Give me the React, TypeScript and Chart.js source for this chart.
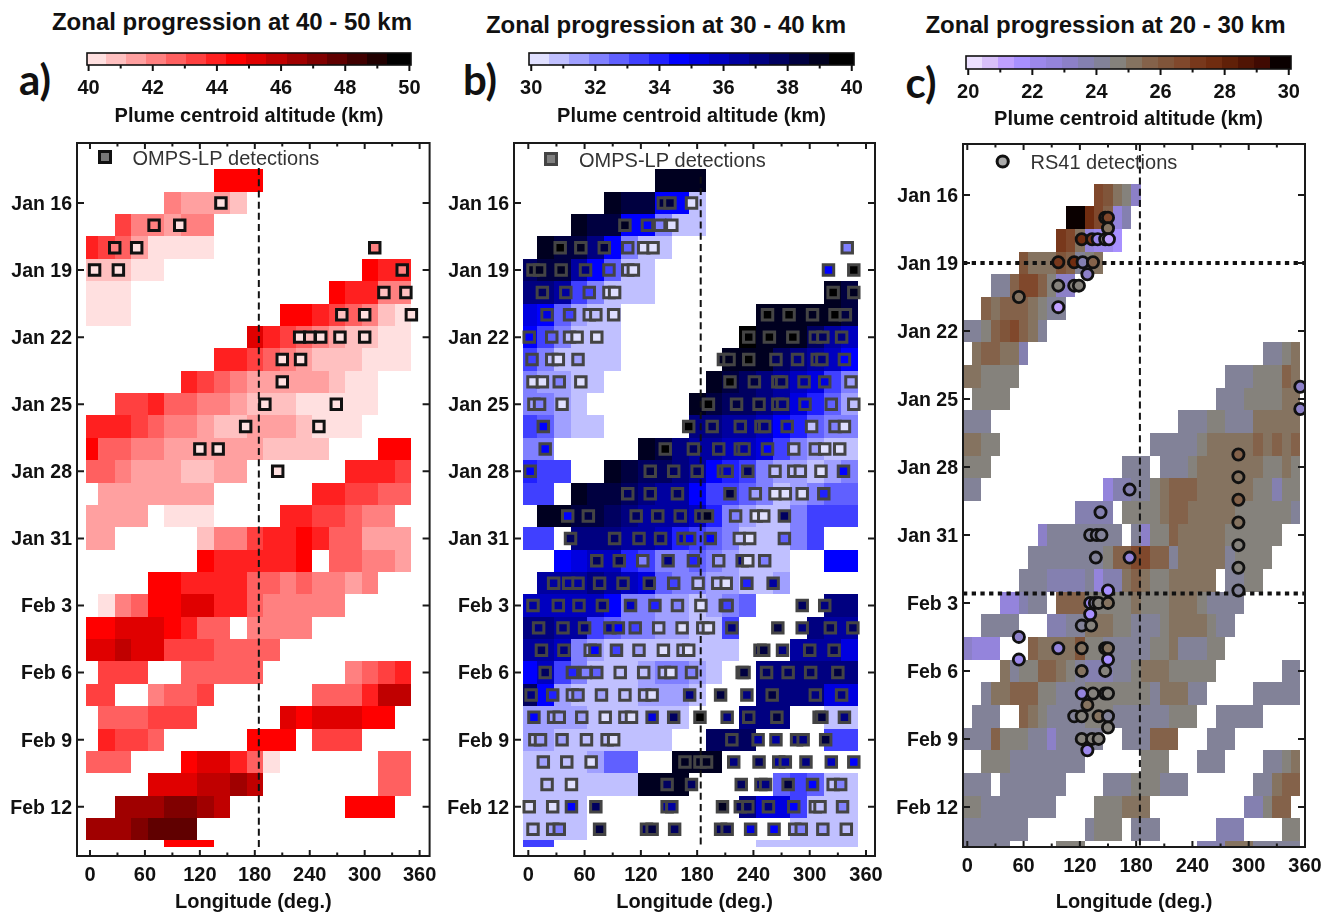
import React, { useEffect, useRef } from "react";
import { Chart, registerables } from "chart.js";
Chart.register(...registerables);

const gap = (n: number) => ".".repeat(n);

// Altitude class of each cell (one character per longitude bin, "." = no data), one row per day
const aRows = [
  "........777.........", ".....32221..........", "..533233............", "65420000............",
  "11100............766", "000............76633", "000.........77654310", "..........8654321100",
  "........665432111000", "......654322222100..", "..5564433211100000..", "66654332112221000...",
  "744332222221111...77", "4432221122......6665", ".2222222......665544", "2222.000....6655433.",
  "22.....1335667644222", ".......7666667.44332", "....77666644343323..", ".034778866433333....",
  "778887644.3333......", "889885554444........", ".555..44444.....3456", "55..3445......444699",
  ".444555.....8788877.", ".6554.....777.555...", "444...788640......44", "....88899a9.......44",
  "..aaabba9.......777.", "aaabccc.............", ".....777............",
];
const bRows = [
  "........eee.........", ".....edd771.........", "...edd77311.........", ".eddb7311...........",
  "cdda7411............", "bba53111..........ed", "874211........eeeeed", "753111.......feeeca9",
  "531111......eeecba97", "32211......edcba9853", "3321......edccba8642", "54211.....bbaa976433",
  "33.....edbaa99853211", "655..edccba765322123", "55.eddcbaa7554312344", ".eeddcbaaa9632113555",
  "55.bbbaa9654311135..", "..78996533432111..77", ".aaaba9843322112....", "99999733221234....bb",
  "bbaa543322115....baa", "aa93211111111...aaa8", "795311123321..bbbbbb", "c7211112221...bbbb88",
  "2222111111...bbb..11", "221111111..ccc....55", "1111244..eee........", "1111111eee.....45411",
  "1111.........b885111", "1111............1111", "55............111111",
];
const cRows = [
  gap(14) + "dca96",
  gap(11) + "jjfdb57",
  gap(10) + "eda5443",
  gap(6) + "caaacb89a",
  gap(3) + "88bddb966",
  gap(2) + "babbba988",
  "889bcdba8",
  ".abbaa7" + gap(25) + "889a",
  "aa9999" + gap(22) + "888999ba",
  ".9999" + gap(22) + "8889999aa",
  "888" + gap(20) + "88899888aaaaa",
  "aa99" + gap(16) + "888889aaaaababab",
  "999" + gap(14) + "888.8889aaaaaaa99a9",
  "88" + gap(13) + "57788" + "9abbbaaaaaa99799",
  gap(12) + "7777.9999abbaaaaa9999998",
  gap(8) + "688888888.8699baaaaa999999",
  gap(7) + "888888889bbddbb8aaaaa89999",
  gap(6) + "888777785" + "77aba99aaaaa.8899",
  gap(4) + "55788.bbb99999a999aaa98888",
  gap(2) + "8888...7788aaa99888" + "9aaaa988",
  "6555...baaaac998888899a88899",
  gap(4) + "a899bba98777889aaa99999" + gap(7) + "88",
  "..8aabbb99888999" + "99998aaa88" + gap(5) + "88888",
  ".888..ba98888999888888999..88888",
  "888b99988688888..888bbb...888",
  "..99988888888" + gap(6) + "999...888" + gap(4) + "889a",
  "888.8888888" + gap(4) + "888999888" + gap(7) + "88abb",
  "9988888888....999aaa" + gap(10) + "779bb",
  "8888888" + gap(6) + "8999.888" + gap(6) + "777" + gap(4) + "99",
  "88888" + gap(5) + "999" + gap(12) + "777aaa88888",
];

const aFirstDay = 15;
const bFirstDay = 15;
const cFirstDay = 16;

// Detections: [day, longitudes, altitude class of each]
type Hit = [number, number[], string];
const aHits: Hit[] = [
  [16, [143], "0"], [17, [70, 98], "30"], [18, [27, 51, 311], "303"], [19, [5, 31, 341], "003"],
  [20, [321, 345], "11"], [21, [275, 300, 351], "100"], [22, [229, 240, 252, 273, 300], "01000"],
  [23, [210, 230], "00"], [24, [210], "0"], [25, [191, 269], "00"], [26, [170, 250], "00"],
  [27, [120, 140], "00"], [28, [205], "0"],
];
const bHits: Hit[] = [
  [16, [144, 151, 174], "dd0"], [17, [103, 127, 140, 153], "e730"], [18, [34, 56, 81, 106, 123, 133, 340], "fed4003"],
  [19, [5, 12, 35, 61, 86, 106, 112, 320, 347], "eeeb5107f"],
  [20, [15, 40, 65, 86, 92, 325, 347], "ca500fe"],
  [21, [20, 44, 65, 72, 91, 255, 278, 303, 327, 338], "85110ffefd"],
  [22, [1, 25, 44, 52, 73, 235, 257, 282, 306, 314, 334], "74100fffccb"],
  [23, [4, 25, 32, 53, 208, 214, 235, 264, 287, 308, 313, 337], "5102eefcbbb7"],
  [24, [5, 15, 33, 56, 215, 241, 266, 270, 294, 316, 344], "0030fdcca82"],
  [25, [6, 12, 36, 192, 222, 246, 266, 271, 295, 323, 347], "230fddcb841"],
  [26, [16, 171, 196, 226, 248, 252, 276, 302, 327, 337], "7fcbbb8130"],
  [27, [18, 146, 176, 203, 226, 230, 255, 283, 306, 316, 332], "7fcbaa71200"],
  [28, [2, 130, 155, 180, 208, 212, 234, 263, 283, 290, 312, 336], "7dcc99c11107"],
  [29, [106, 130, 159, 215, 242, 263, 274, 292, 315], "cccd20006"],
  [30, [42, 64, 115, 138, 162, 184, 191, 221, 243, 251, 273], "7dccbce300c"],
  [31, [45, 92, 118, 141, 165, 172, 194, 225, 236, 273], "ccbb977104"],
  [32, [73, 97, 122, 149, 176, 203, 228, 234, 252], "cc3b62b03"],
  [33, [27, 43, 53, 76, 101, 129, 155, 181, 202, 211, 233, 261], "aaabbc51106a"],
  [34, [5, 32, 54, 79, 109, 135, 159, 184, 210, 212, 292, 316], "aaab963025cb"],
  [35, [11, 37, 60, 87, 96, 114, 139, 164, 186, 192, 217, 266, 292, 322, 346], "bbba751010bdbcc"],
  [36, [14, 38, 66, 71, 94, 118, 144, 165, 171, 247, 251, 271, 300, 326], "cb2752010ddbcc"],
  [37, [18, 47, 61, 73, 98, 123, 145, 152, 174, 228, 230, 254, 277, 301, 330], "c63411103ddcccd"],
  [38, [3, 26, 47, 53, 78, 103, 124, 132, 172, 205, 233, 260, 306, 334], "b6232110bdbdbb"],
  [39, [6, 27, 33, 57, 82, 103, 110, 132, 155, 183, 212, 235, 265, 310, 313, 337], "72220108cfbcdddb"],
  [40, [7, 13, 36, 62, 84, 91, 217, 245, 264, 286, 293, 317], "122110caabbd"],
  [41, [16, 41, 67, 167, 183, 190, 219, 246, 267, 274, 296, 323, 347], "210eeebcaab97"],
  [42, [20, 46, 148, 174, 227, 248, 253, 277, 303, 325, 333], "10cccbbd713"],
  [43, [1, 26, 46, 72, 148, 153, 207, 226, 234, 256, 283, 306, 311, 335], "007caaeccb7113"],
  [44, [5, 26, 33, 76, 126, 132, 156, 205, 212, 237, 262, 284, 291, 314, 339], "123dcdccc872321"],
];
const cHits: Hit[] = [
  [17, [147, 150], "cd"], [17.47, [150], "a"], [17.95, [122, 133, 139, 147, 151], "fe492"],
  [18.97, [97, 114, 123, 134], "ef7b"], [19.5, [128], "6"], [20, [97, 114, 119], "999"], [20.5, [55], "a"], [20.95, [97], "2"],
  [24.46, [355], "6"], [25.44, [355], "6"], [27.45, [289], "b"], [28.45, [289], "a"], [29, [173], "7"], [29.45, [289], "b"],
  [30, [142], "7"], [30.45, [289], "a"], [31, [131, 138, 143], "888"], [31.45, [289], "9"], [32, [137, 173], "85"],
  [32.45, [289], "9"], [33.45, [150, 289], "38"], [34, [131, 136, 140, 150], "489a"], [34.5, [131], "3"], [35, [122, 132], "89"],
  [35.5, [55], "6"], [36, [97, 122, 147, 150], "5a8a"], [36.5, [55, 150], "43"], [37, [122, 147], "a9"],
  [38, [122, 134, 147, 150], "5989"], [38.5, [128], "a"], [39, [114, 122, 140, 150], "89a8"], [39.5, [150], "9"],
  [40, [122, 133, 140], "999"], [40.5, [128], "4"],
];

const dayTicksA = [16, 19, 22, 25, 28, 31, 34, 37, 40, 43];
const dayLabels = ["Jan 16", "Jan 19", "Jan 22", "Jan 25", "Jan 28", "Jan 31", "Feb 3", "Feb 6", "Feb 9", "Feb 12"];
const lonTicks = [0, 30, 60, 90, 120, 150, 180, 210, 240, 270, 300, 330, 360];
const lonLabels = ["0", "", "60", "", "120", "", "180", "", "240", "", "300", "", "360"];

const redColours = ["#ffe0e0", "#ffc0c0", "#ffa0a0", "#ff8080", "#ff6060", "#ff4040", "#ff2020", "#ff0000", "#e00000", "#c00000", "#a00000", "#800000", "#600000", "#400000", "#200000", "#000000"];
const blueColours = ["#e0e0ff", "#c0c0ff", "#a0a0ff", "#8080ff", "#6060ff", "#4040ff", "#2020ff", "#0000ff", "#0000e0", "#0000c0", "#0000a0", "#000080", "#000060", "#000040", "#000020", "#000000"];
const violetColours = ["#ece0ff", "#d8c0fa", "#c0a0ff", "#a890ff", "#9c88ec", "#9484dc", "#8c80c8", "#8480b0", "#828298", "#85827c", "#857360", "#84624a", "#80553a", "#80482c", "#78381c", "#702c10", "#602008", "#501404", "#400a02", "#0a0000"];

const FONT = '"Liberation Sans", Arial, sans-serif';
const INK = "#111111";

type Panel = {
  left: number; width: number; plot: [number, number, number, number];
  xRange: [number, number]; yRange: [number, number];
  rows: string[]; firstDay: number; columns: number; colStep: number; clipLeft: number;
  lastRowSpan: number; base: number; colours: string[];
  hits: Hit[]; hitStyle: "rect" | "circle"; hitRadius: number; hitBorder: string; hitWidth: number;
  dashed: [number, number, number]; dotted: number[];
  legend: { sx: number; sy: number; fill: string; text: string; tx: number; ty: number };
  bar: { left: number; right: number; top: number; bottom: number; canvasLeft: number; canvasRight: number; canvasBottom: number; xr: [number, number] };
  title: string; titleX: number; titleY: number; letter: string; letterX: number; letterY: number;
};

const panels: Panel[] = [
  {
    left: 0, width: 440, plot: [77, 430, 143, 856], xRange: [-14.18, 370.9], yRange: [13.32, 45.2],
    rows: aRows, firstDay: aFirstDay, columns: 20, colStep: 18, clipLeft: -4.7, lastRowSpan: 0.3, base: 40, colours: redColours,
    hits: aHits, hitStyle: "rect", hitRadius: 7.4, hitBorder: "#111111", hitWidth: 3,
    dashed: [184.4, 14.44, 44.84], dotted: [],
    legend: { sx: 105, sy: 157, fill: "#777777", text: "OMPS-LP detections", tx: 132.5, ty: 159 },
    bar: { left: 87, right: 411, top: 53, bottom: 65, canvasLeft: 70, canvasRight: 430, canvasBottom: 126, xr: [39.95, 50.05] },
    title: "Zonal progression at 40 - 50 km", titleX: 232, titleY: 22, letter: "a)", letterX: 35, letterY: 79,
  },
  {
    left: 440, width: 450, plot: [514, 875, 143, 856], xRange: [-15.25, 369.6], yRange: [13.32, 45.2],
    rows: bRows, firstDay: bFirstDay, columns: 20, colStep: 18, clipLeft: -5.3, lastRowSpan: 0.3, base: 30, colours: blueColours,
    hits: bHits, hitStyle: "rect", hitRadius: 7.4, hitBorder: "#444444", hitWidth: 3,
    dashed: [183.8, 14.83, 44.84], dotted: [],
    legend: { sx: 551, sy: 159, fill: "#808080", text: "OMPS-LP detections", tx: 579, ty: 161 },
    bar: { left: 529, right: 854, top: 53, bottom: 65, canvasLeft: 510, canvasRight: 875, canvasBottom: 126, xr: [29.93, 40.07] },
    title: "Zonal progression at 30 - 40 km", titleX: 666, titleY: 25, letter: "b)", letterX: 480, letterY: 79,
  },
  {
    left: 890, width: 432, plot: [963, 1305, 144, 847], xRange: [-4.58, 360], yRange: [13.75, 44.77],
    rows: cRows, firstDay: cFirstDay, columns: 36, colStep: 10, clipLeft: -4.5, lastRowSpan: 1, base: 20, colours: violetColours,
    hits: cHits, hitStyle: "circle", hitRadius: 5.6, hitBorder: "#111111", hitWidth: 2.8,
    dashed: [184, 13.75, 44.77], dotted: [19, 33.58],
    legend: { sx: 1002.7, sy: 161.5, fill: "#aaaaaa", text: "RS41 detections", tx: 1030.5, ty: 163 },
    bar: { left: 966, right: 1291, top: 56, bottom: 69, canvasLeft: 950, canvasRight: 1310, canvasBottom: 129, xr: [19.93, 30.07] },
    title: "Zonal progression at 20 - 30 km", titleX: 1105.5, titleY: 25, letter: "c)", letterX: 921, letterY: 82,
  },
];

const colourOf = (p: Panel, ch: string) => p.colours[parseInt(ch, 36)];
const altitudeOf = (p: Panel, ch: string) => p.base + ((parseInt(ch, 36) + 0.5) * 10) / p.colours.length;
const colourAt = (p: Panel, alt: number) =>
  p.colours[Math.min(p.colours.length - 1, Math.floor(((alt - p.base) / 10) * p.colours.length))];

function cellPlugin(p: Panel, halfX: number, clipLeft: number, lastY: number | null, lastSpan: number) {
  return {
    id: "cells",
    beforeDatasetsDraw(chart: any) {
      const { ctx, chartArea: a, scales } = chart;
      const cells = chart.data.datasets[0].data as { x: number; y: number; v: number }[];
      ctx.save();
      ctx.beginPath();
      ctx.rect(a.left, a.top, a.right - a.left, a.bottom - a.top);
      ctx.clip();
      for (const c of cells) {
        const x0 = Math.round(scales.x.getPixelForValue(Math.max(c.x - halfX, clipLeft)));
        const x1 = Math.round(scales.x.getPixelForValue(c.x + halfX));
        const y0 = Math.round(scales.y.getPixelForValue(c.y - 0.5));
        const span = lastY !== null && c.y === lastY ? lastSpan : 1;
        const y1 = Math.round(scales.y.getPixelForValue(c.y - 0.5 + span));
        ctx.fillStyle = colourAt(p, c.v);
        ctx.fillRect(x0, y0, x1 - x0, y1 - y0);
      }
      ctx.restore();
    },
  };
}

function framePlugin(p: Panel) {
  return {
    id: "frame",
    afterDraw(chart: any) {
      const { ctx, chartArea: a, scales } = chart;
      ctx.save();
      ctx.strokeStyle = "#1a1a1a";
      ctx.lineWidth = 2;
      ctx.strokeRect(a.left, a.top, a.right - a.left, a.bottom - a.top);
      ctx.beginPath();
      lonTicks.forEach((t, i) => {
        const x = scales.x.getPixelForValue(t);
        const len = i % 2 === 0 ? 6 : 3.5;
        ctx.moveTo(x, a.bottom);
        ctx.lineTo(x, a.bottom - len);
        ctx.moveTo(x, a.top);
        ctx.lineTo(x, a.top + len);
      });
      dayTicksA.forEach((t) => {
        const y = scales.y.getPixelForValue(t);
        ctx.moveTo(a.left, y);
        ctx.lineTo(a.left + 7, y);
        ctx.moveTo(a.right, y);
        ctx.lineTo(a.right - 7, y);
      });
      ctx.stroke();
      const g = p.legend;
      const sx = g.sx - p.left;
      const sy = g.sy - 130;
      ctx.fillStyle = g.fill;
      ctx.strokeStyle = p.hitBorder;
      ctx.lineWidth = 3;
      ctx.beginPath();
      if (p.hitStyle === "rect") ctx.rect(sx - 5.5, sy - 5.5, 11, 11);
      else ctx.arc(sx, sy, 5.6, 0, Math.PI * 2);
      ctx.fill();
      ctx.stroke();
      ctx.fillStyle = "#333333";
      ctx.font = `20px ${FONT}`;
      ctx.textBaseline = "middle";
      ctx.textAlign = "left";
      ctx.fillText(g.text, g.tx - p.left, g.ty - 130);
      ctx.restore();
    },
  };
}

function barFramePlugin() {
  return {
    id: "barFrame",
    afterDraw(chart: any) {
      const { ctx, chartArea: a, scales } = chart;
      ctx.save();
      ctx.strokeStyle = "#111111";
      ctx.lineWidth = 1.6;
      ctx.strokeRect(a.left, a.top, a.right - a.left, a.bottom - a.top);
      ctx.lineWidth = 2;
      ctx.beginPath();
      scales.x.ticks.forEach((t: any, i: number) => {
        const x = scales.x.getPixelForValue(t.value);
        ctx.moveTo(x, a.bottom);
        ctx.lineTo(x, a.bottom + (i % 2 === 0 ? 6 : 3.5));
      });
      ctx.stroke();
      ctx.restore();
    },
  };
}

function decodeCells(p: Panel) {
  const cells: { x: number; y: number; v: number }[] = [];
  p.rows.forEach((row, r) => {
    [...row].forEach((ch, i) => {
      if (ch !== ".") cells.push({ x: i * p.colStep, y: p.firstDay + r, v: altitudeOf(p, ch) });
    });
  });
  return cells;
}

function decodeHits(p: Panel) {
  const pts: { x: number; y: number }[] = [];
  const fills: string[] = [];
  for (const [day, lons, levels] of p.hits) {
    lons.forEach((lon, i) => {
      pts.push({ x: lon, y: day });
      fills.push(colourOf(p, levels[i] ?? levels[levels.length - 1]));
    });
  }
  return { pts, fills };
}

function makeMain(canvas: HTMLCanvasElement, p: Panel) {
  const [L, R, T, B] = p.plot;
  const { pts, fills } = decodeHits(p);
  const lastDay = p.firstDay + p.rows.length - 1;
  const datasets: any[] = [
    { label: "cells", data: decodeCells(p), pointRadius: 0, showLine: false, order: 3 },
    {
      label: "detections", data: pts, showLine: false, pointStyle: p.hitStyle, pointRadius: p.hitRadius, pointHoverRadius: p.hitRadius,
      pointBackgroundColor: fills, pointBorderColor: p.hitBorder, pointBorderWidth: p.hitWidth, order: 0,
    },
    {
      label: "dateline", showLine: true, pointRadius: 0, borderColor: "#111111", borderWidth: 2, borderDash: [7, 4.2], order: 1,
      data: [{ x: p.dashed[0], y: p.dashed[1] }, { x: p.dashed[0], y: p.dashed[2] }],
    },
    ...p.dotted.map((d) => ({
      label: "period", showLine: true, pointRadius: 0, borderColor: "#111111", borderWidth: 4, borderDash: [4.3, 4.4], order: 1,
      data: [{ x: p.xRange[0], y: d }, { x: p.xRange[1], y: d }],
    })),
  ];
  return new Chart(canvas, {
    type: "scatter",
    data: { datasets },
    plugins: [cellPlugin(p, p.colStep / 2, p.clipLeft, lastDay, p.lastRowSpan) as any, framePlugin(p) as any],
    options: {
      responsive: false, animation: false, events: [],
      layout: { padding: { left: 0, top: T - 130, right: p.left + p.width - R, bottom: 0 } },
      plugins: { legend: { display: false }, tooltip: { enabled: false } },
      scales: {
        x: {
          type: "linear", min: p.xRange[0], max: p.xRange[1],
          grid: { display: false, drawTicks: false }, border: { display: false },
          afterBuildTicks: (s: any) => { s.ticks = lonTicks.map((value) => ({ value })); },
          afterFit: (s: any) => { s.height = 912 - B; s.paddingLeft = 0; s.paddingRight = 0; },
          ticks: {
            autoSkip: false, maxRotation: 0, padding: 9, color: INK,
            font: { family: FONT, size: 20, weight: "bold", lineHeight: 1 },
            callback: (v: any) => lonLabels[lonTicks.indexOf(Number(v))] ?? "",
          },
          title: { display: true, text: "Longitude (deg.)", color: INK, padding: { top: 0, bottom: 0 }, font: { family: FONT, size: 20, weight: "bold", lineHeight: 1 } },
        },
        y: {
          type: "linear", reverse: true, min: p.yRange[0], max: p.yRange[1],
          grid: { display: false, drawTicks: false }, border: { display: false },
          afterBuildTicks: (s: any) => { s.ticks = dayTicksA.map((value) => ({ value })); },
          afterFit: (s: any) => { s.width = L - p.left; s.paddingTop = 0; s.paddingBottom = 0; },
          ticks: {
            autoSkip: false, padding: 5, color: INK, labelOffset: 1.5,
            font: { family: FONT, size: 19.5, weight: "bold", lineHeight: 1 },
            callback: (v: any) => dayLabels[dayTicksA.indexOf(Number(v))] ?? "",
          },
        },
      },
    } as any,
  });
}

function makeBar(canvas: HTMLCanvasElement, p: Panel) {
  const b = p.bar;
  const n = p.colours.length;
  const step = 10 / n;
  const cells = p.colours.map((_, i) => ({ x: p.base + (i + 0.5) * step, y: 0, v: p.base + (i + 0.5) * step }));
  const barTicks = [0, 1, 2, 3, 4, 5, 6, 7, 8, 9, 10].map((k) => p.base + k);
  return new Chart(canvas, {
    type: "scatter",
    data: { datasets: [{ label: "scale", data: cells, pointRadius: 0, showLine: false }] },
    plugins: [cellPlugin(p, step / 2 + 0.08, b.xr[0], null, 1) as any, barFramePlugin() as any],
    options: {
      responsive: false, animation: false, events: [],
      layout: { padding: { left: 0, top: b.top - 45, right: b.canvasRight - b.right, bottom: 0 } },
      plugins: { legend: { display: false }, tooltip: { enabled: false } },
      scales: {
        x: {
          type: "linear", min: b.xr[0], max: b.xr[1],
          grid: { display: false, drawTicks: false }, border: { display: false },
          afterBuildTicks: (s: any) => { s.ticks = barTicks.map((value) => ({ value })); },
          afterFit: (s: any) => { s.height = b.canvasBottom - b.bottom; s.paddingLeft = 0; s.paddingRight = 0; },
          ticks: {
            autoSkip: false, maxRotation: 0, padding: 13, color: INK,
            font: { family: FONT, size: 20, weight: "bold", lineHeight: 1 },
            callback: (v: any) => ((Number(v) - p.base) % 2 === 0 ? String(v) : ""),
          },
          title: { display: true, text: "Plume centroid altitude (km)", color: INK, padding: { top: 0, bottom: 0 }, font: { family: FONT, size: 20, weight: "bold", lineHeight: 1 } },
        },
        y: {
          type: "linear", min: -0.5, max: 0.5, display: true,
          grid: { display: false, drawTicks: false }, border: { display: false },
          ticks: { display: false },
          afterFit: (s: any) => { s.width = b.left - b.canvasLeft; s.paddingTop = 0; s.paddingBottom = 0; },
        },
      },
    } as any,
  });
}

function PanelView({ p }: { p: Panel }) {
  const main = useRef<HTMLCanvasElement>(null);
  const bar = useRef<HTMLCanvasElement>(null);
  useEffect(() => {
    const c1 = makeMain(main.current!, p);
    const c2 = makeBar(bar.current!, p);
    return () => { c1.destroy(); c2.destroy(); };
  }, [p]);
  const center: React.CSSProperties = { position: "absolute", transform: "translate(-50%,-50%)", whiteSpace: "nowrap", color: "#111" };
  return (
    <>
      <canvas ref={main} width={p.width} height={782} style={{ position: "absolute", left: p.left, top: 130, width: p.width, height: 782 }} />
      <canvas ref={bar} width={p.bar.canvasRight - p.bar.canvasLeft} height={p.bar.canvasBottom - 45}
        style={{ position: "absolute", left: p.bar.canvasLeft, top: 45, width: p.bar.canvasRight - p.bar.canvasLeft, height: p.bar.canvasBottom - 45 }} />
      <div style={{ ...center, left: p.titleX, top: p.titleY, font: `bold 24px ${FONT}` }}>{p.title}</div>
      <div style={{ ...center, left: p.letterX, top: p.letterY, font: `bold 42px Lato, "Open Sans", sans-serif` }}>{p.letter}</div>
    </>
  );
}

export default function App() {
  return (
    <div style={{ position: "absolute", left: 0, top: 0, width: 1322, height: 912, overflow: "hidden", background: "#fff" }}>
      {panels.map((p) => <PanelView key={p.letter} p={p} />)}
    </div>
  );
}
